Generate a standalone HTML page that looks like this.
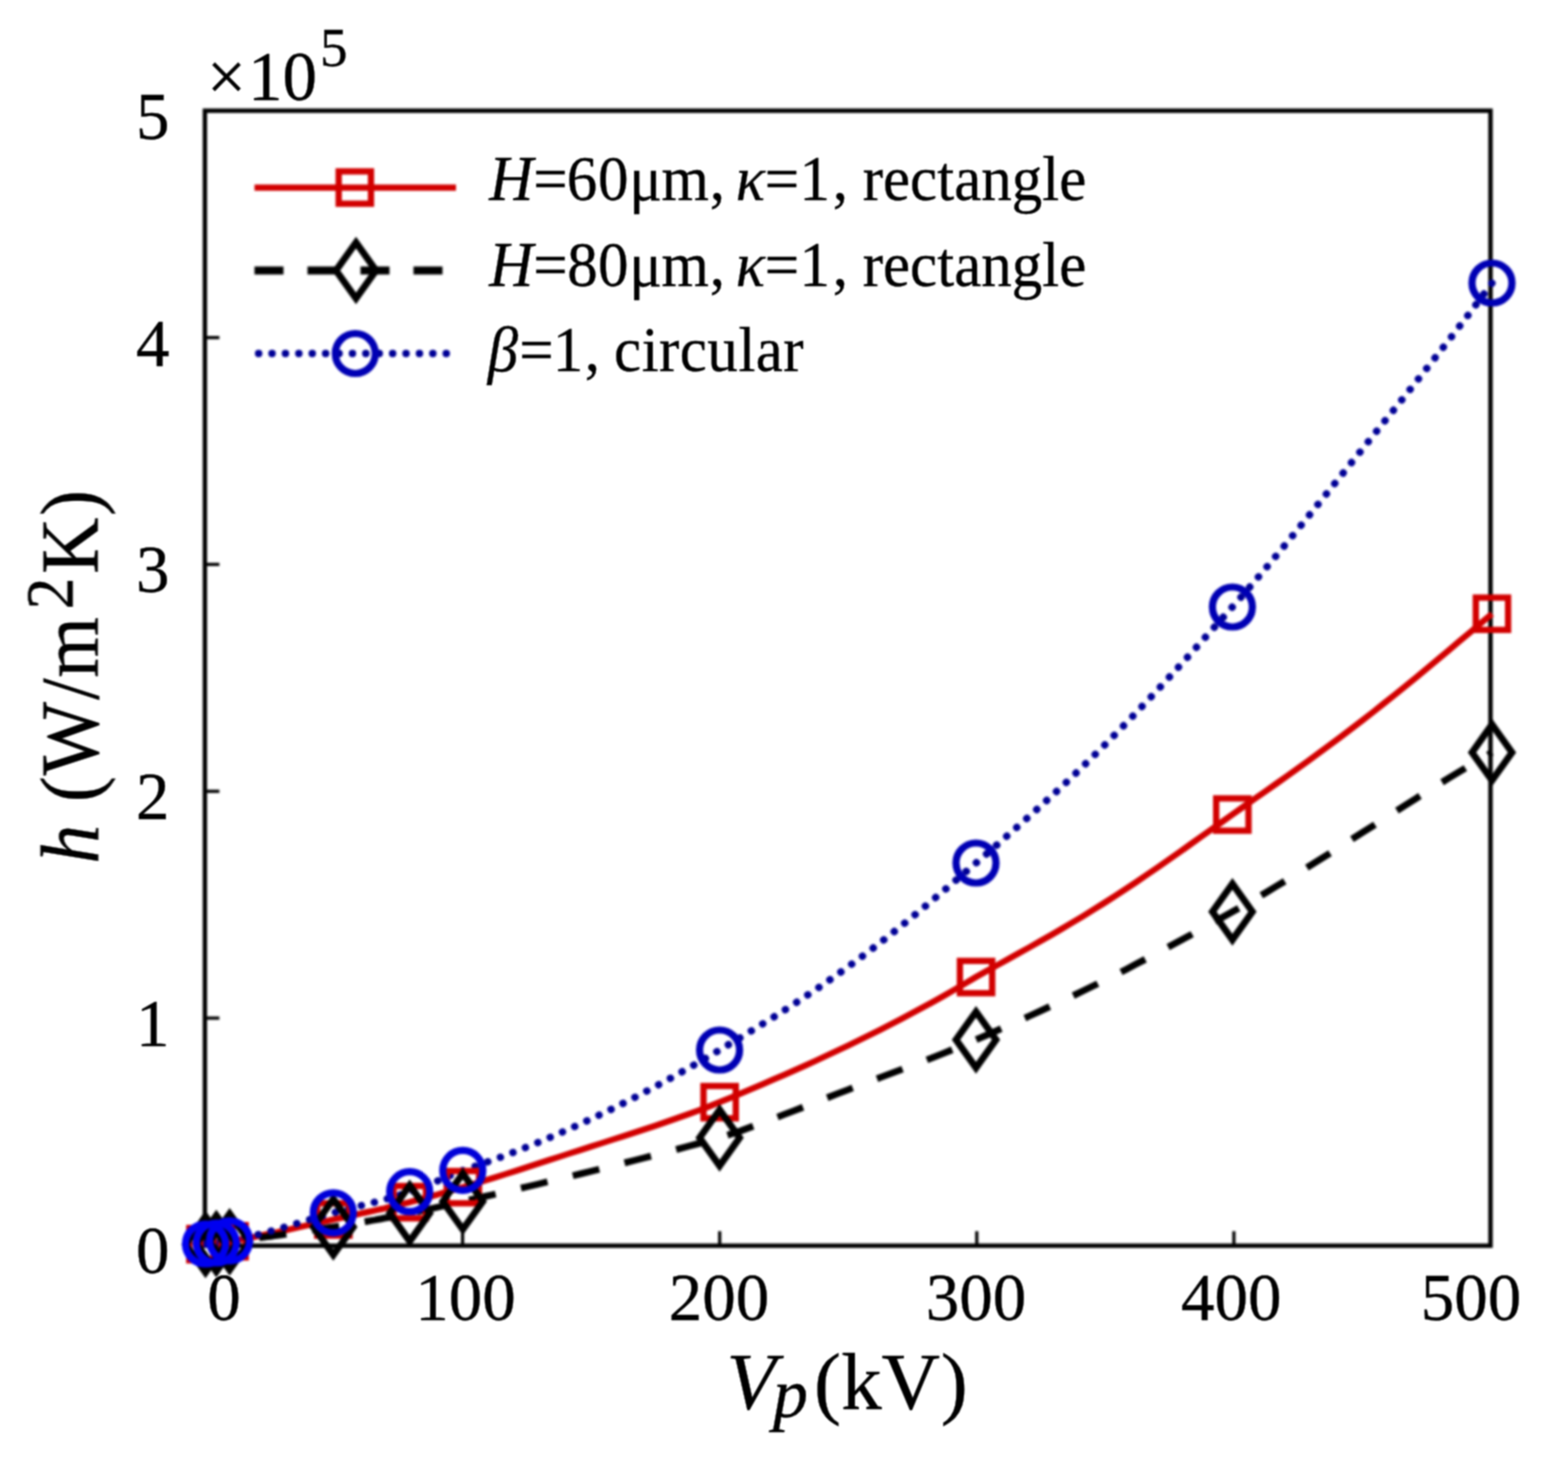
<!DOCTYPE html>
<html lang="en"><head><meta charset="utf-8"><title>h vs Vp</title>
<style>
html,body{margin:0;padding:0;background:#fff;}
body{width:1554px;height:1462px;overflow:hidden;}
svg{display:block;}
text{font-family:"Liberation Serif","DejaVu Serif",serif;fill:#000;stroke:#000;stroke-width:0.35px;}
.i{font-style:italic;}
.sh{filter:blur(0.8px);}
.tx{filter:url(#soft);}
</style></head><body>
<svg width="1554" height="1462" viewBox="0 0 1554 1462">
<defs><filter id="soft" x="0" y="0" width="1554" height="1462" filterUnits="userSpaceOnUse" color-interpolation-filters="sRGB"><feConvolveMatrix order="3" kernelMatrix="1 2 1 2 4 2 1 2 1" divisor="16" edgeMode="duplicate"/></filter></defs>
<rect x="0" y="0" width="1554" height="1462" fill="#fff"/>
<g class="tx">
<text x="224" y="1319.5" font-size="67" text-anchor="middle">0</text>
<text x="465.5" y="1319.5" font-size="67" text-anchor="middle">100</text>
<text x="719" y="1319.5" font-size="67" text-anchor="middle">200</text>
<text x="976" y="1319.5" font-size="67" text-anchor="middle">300</text>
<text x="1231.3" y="1319.5" font-size="67" text-anchor="middle">400</text>
<text x="1471" y="1319.5" font-size="67" text-anchor="middle">500</text>
<text x="169.5" y="1273.0" font-size="67" text-anchor="end">0</text>
<text x="169.5" y="1046.1" font-size="67" text-anchor="end">1</text>
<text x="169.5" y="819.3" font-size="67" text-anchor="end">2</text>
<text x="169.5" y="592.4" font-size="67" text-anchor="end">3</text>
<text x="169.5" y="365.6" font-size="67" text-anchor="end">4</text>
<text x="169.5" y="138.7" font-size="67" text-anchor="end">5</text>
<text x="207 248 282.5 320" y="100" font-size="69">×10<tspan font-size="55" dy="-34">5</tspan></text>
<text x="726.4 772.9 813.9 841.2 881.5 940.8" y="1408.7" font-size="81"><tspan class="i">V</tspan><tspan class="i" font-size="70" dy="8">p</tspan><tspan dy="-8">(kV)</tspan></text>
<text transform="translate(97.6,676) rotate(-90) scale(0.94,1)" x="-199.8 -148.9 -134.3 -105.8 -25.4 -1.8 70.9 108.5 170.3" y="0" font-size="83"><tspan class="i">h</tspan> (W/m<tspan font-size="68" dy="-25">2</tspan><tspan dy="25">K)</tspan></text>
<text transform="scale(0.96,1)" x="509.7 555.6 590.4 623.0 655.5 689.1 739.2 754.2 766.4 796.5 832.7 867.5 885.4 898.6 919.8 948.0 976.3 994.0 1022.2 1054.0 1085.8 1103.5" y="199.8" font-size="63.5"><tspan class="i">H</tspan>=60μm, <tspan class="i">κ</tspan>=1, rectangle</text>
<text transform="scale(0.96,1)" x="509.7 555.6 590.8 623.0 655.5 689.1 739.2 754.2 766.4 796.5 832.7 867.5 885.4 898.6 919.8 948.0 976.3 994.0 1022.2 1054.0 1085.8 1103.5" y="285.8" font-size="63.5"><tspan class="i">H</tspan>=80μm, <tspan class="i">κ</tspan>=1, rectangle</text>
<text transform="scale(0.96,1)" x="508.1 541.0 575.9 609.1 627.1 639.7 668.4 686.4 708.0 736.8 769.2 787.2 816.0" y="371.3" font-size="63.5"><tspan class="i">β</tspan>=1, circular</text>
</g>
<g class="sh">
<rect x="204.9" y="110.7" width="1285.6" height="1135.0" fill="none" stroke="#000" stroke-width="4.4"/>
<line x1="462.6" y1="1245.7" x2="462.6" y2="1231.2" stroke="#000" stroke-width="3.2"/>
<line x1="719.7" y1="1245.7" x2="719.7" y2="1231.2" stroke="#000" stroke-width="3.2"/>
<line x1="976.8" y1="1245.7" x2="976.8" y2="1231.2" stroke="#000" stroke-width="3.2"/>
<line x1="1233.9" y1="1245.7" x2="1233.9" y2="1231.2" stroke="#000" stroke-width="3.2"/>
<line x1="204.9" y1="1018.1" x2="219.4" y2="1018.1" stroke="#000" stroke-width="3.2"/>
<line x1="204.9" y1="791.3" x2="219.4" y2="791.3" stroke="#000" stroke-width="3.2"/>
<line x1="204.9" y1="564.4" x2="219.4" y2="564.4" stroke="#000" stroke-width="3.2"/>
<line x1="204.9" y1="337.6" x2="219.4" y2="337.6" stroke="#000" stroke-width="3.2"/>
<path d="M205.5,1244.2 L205.9,1244.2 L206.4,1244.1 L206.8,1244.1 L207.3,1244.1 L207.8,1244.1 L208.2,1244.0 L208.7,1244.0 L209.1,1244.0 L209.6,1243.9 L210.0,1243.9 L210.5,1243.9 L210.9,1243.8 L211.3,1243.8 L211.8,1243.8 L212.2,1243.7 L212.7,1243.7 L213.2,1243.6 L213.6,1243.6 L214.1,1243.5 L214.5,1243.5 L215.0,1243.4 L215.4,1243.4 L215.9,1243.4 L216.3,1243.3 L216.9,1243.2 L217.4,1243.2 L218.0,1243.1 L218.5,1243.0 L219.1,1243.0 L219.6,1242.9 L220.2,1242.8 L220.7,1242.7 L221.3,1242.6 L221.8,1242.5 L222.4,1242.5 L222.9,1242.4 L223.5,1242.3 L224.1,1242.2 L224.6,1242.1 L225.2,1242.0 L225.7,1241.9 L226.3,1241.8 L226.8,1241.7 L227.4,1241.7 L227.9,1241.6 L228.5,1241.5 L229.0,1241.4 L229.6,1241.3 L233.9,1240.6 L238.2,1239.9 L242.6,1239.1 L246.9,1238.3 L251.2,1237.5 L255.5,1236.7 L259.8,1235.8 L264.2,1234.9 L268.5,1234.0 L272.8,1233.1 L277.1,1232.2 L281.4,1231.2 L285.8,1230.2 L290.1,1229.3 L294.4,1228.3 L298.7,1227.3 L303.1,1226.3 L307.4,1225.3 L311.7,1224.4 L316.0,1223.4 L320.3,1222.4 L324.7,1221.4 L329.0,1220.5 L333.3,1219.5 L336.5,1218.8 L339.7,1218.1 L342.9,1217.4 L346.0,1216.7 L349.2,1216.1 L352.4,1215.4 L355.6,1214.7 L358.8,1214.0 L361.9,1213.3 L365.1,1212.6 L368.3,1211.9 L371.5,1211.2 L374.7,1210.5 L377.9,1209.8 L381.1,1209.1 L384.2,1208.4 L387.4,1207.6 L390.6,1206.9 L393.8,1206.2 L397.0,1205.4 L400.1,1204.6 L403.3,1203.8 L406.5,1203.0 L409.7,1202.2 L411.9,1201.6 L414.1,1201.0 L416.3,1200.4 L418.6,1199.9 L420.8,1199.2 L423.0,1198.6 L425.2,1198.0 L427.4,1197.4 L429.6,1196.8 L431.8,1196.2 L434.0,1195.5 L436.2,1194.9 L438.5,1194.3 L440.7,1193.6 L442.9,1193.0 L445.1,1192.4 L447.3,1191.7 L449.5,1191.1 L451.7,1190.4 L453.9,1189.8 L456.2,1189.1 L458.4,1188.5 L460.6,1187.8 L462.8,1187.2 L473.5,1184.0 L484.2,1180.8 L494.9,1177.5 L505.6,1174.1 L516.3,1170.7 L527.0,1167.2 L537.7,1163.8 L548.4,1160.3 L559.1,1156.9 L569.8,1153.4 L580.5,1150.0 L591.2,1146.5 L601.9,1143.1 L612.6,1139.6 L623.3,1136.2 L634.0,1132.7 L644.7,1129.2 L655.4,1125.7 L666.1,1122.0 L676.8,1118.3 L687.5,1114.5 L698.2,1110.6 L708.9,1106.5 L719.6,1102.2 L730.3,1097.8 L741.0,1093.4 L751.6,1088.9 L762.3,1084.3 L773.0,1079.7 L783.7,1075.1 L794.4,1070.4 L805.1,1065.6 L815.8,1060.7 L826.4,1055.8 L837.1,1050.8 L847.8,1045.7 L858.5,1040.5 L869.2,1035.3 L879.9,1029.9 L890.5,1024.5 L901.2,1018.9 L911.9,1013.3 L922.6,1007.5 L933.3,1001.7 L944.0,995.7 L954.6,989.6 L965.3,983.4 L976.0,977.0 L986.7,971.0 L997.4,965.1 L1008.0,959.2 L1018.7,953.3 L1029.4,947.4 L1040.1,941.3 L1050.8,935.2 L1061.5,929.0 L1072.2,922.7 L1082.8,916.3 L1093.5,909.7 L1104.2,903.0 L1114.9,896.2 L1125.6,889.2 L1136.2,882.1 L1146.9,874.8 L1157.6,867.5 L1168.3,860.0 L1179.0,852.5 L1189.7,844.9 L1200.4,837.3 L1211.0,829.7 L1221.7,822.1 L1232.4,814.5 L1243.2,806.9 L1254.0,799.3 L1264.9,791.7 L1275.7,784.1 L1286.5,776.5 L1297.3,768.7 L1308.1,761.0 L1318.9,753.1 L1329.8,745.1 L1340.6,737.0 L1351.4,728.8 L1362.2,720.5 L1373.0,712.1 L1383.8,703.5 L1394.7,694.9 L1405.5,686.2 L1416.3,677.3 L1427.1,668.4 L1437.9,659.4 L1448.7,650.3 L1459.5,641.2 L1470.4,632.1 L1481.2,622.9 L1492.0,613.8" fill="none" stroke="#d20000" stroke-width="6.2" stroke-linejoin="round"/>
<path d="M205.5,1244.4 L205.9,1244.4 L206.4,1244.4 L206.8,1244.3 L207.3,1244.3 L207.8,1244.3 L208.2,1244.3 L208.7,1244.2 L209.1,1244.2 L209.6,1244.2 L210.0,1244.1 L210.5,1244.1 L210.9,1244.1 L211.3,1244.0 L211.8,1244.0 L212.2,1244.0 L212.7,1243.9 L213.2,1243.9 L213.6,1243.9 L214.1,1243.8 L214.5,1243.8 L215.0,1243.7 L215.4,1243.7 L215.9,1243.6 L216.3,1243.6 L216.9,1243.5 L217.4,1243.5 L218.0,1243.4 L218.5,1243.4 L219.1,1243.3 L219.6,1243.2 L220.2,1243.1 L220.7,1243.1 L221.3,1243.0 L221.8,1242.9 L222.4,1242.8 L222.9,1242.8 L223.5,1242.7 L224.1,1242.6 L224.6,1242.5 L225.2,1242.4 L225.7,1242.4 L226.3,1242.3 L226.8,1242.2 L227.4,1242.1 L227.9,1242.0 L228.5,1242.0 L229.0,1241.9 L229.6,1241.8 L233.9,1241.2 L238.2,1240.6 L242.6,1240.0 L246.9,1239.5 L251.2,1238.9 L255.5,1238.3 L259.8,1237.7 L264.2,1237.1 L268.5,1236.5 L272.8,1236.0 L277.1,1235.4 L281.4,1234.8 L285.8,1234.2 L290.1,1233.5 L294.4,1232.9 L298.7,1232.3 L303.1,1231.7 L307.4,1231.0 L311.7,1230.4 L316.0,1229.7 L320.3,1229.1 L324.7,1228.4 L329.0,1227.7 L333.3,1227.0 L336.5,1226.5 L339.7,1226.0 L342.9,1225.4 L346.0,1224.9 L349.2,1224.4 L352.4,1223.8 L355.6,1223.3 L358.8,1222.8 L361.9,1222.2 L365.1,1221.7 L368.3,1221.1 L371.5,1220.5 L374.7,1220.0 L377.9,1219.4 L381.1,1218.8 L384.2,1218.2 L387.4,1217.7 L390.6,1217.1 L393.8,1216.4 L397.0,1215.8 L400.1,1215.2 L403.3,1214.6 L406.5,1213.9 L409.7,1213.3 L411.9,1212.8 L414.1,1212.4 L416.3,1211.9 L418.6,1211.4 L420.8,1211.0 L423.0,1210.5 L425.2,1210.0 L427.4,1209.5 L429.6,1209.0 L431.8,1208.5 L434.0,1208.0 L436.2,1207.5 L438.5,1207.0 L440.7,1206.5 L442.9,1206.0 L445.1,1205.5 L447.3,1205.0 L449.5,1204.5 L451.7,1204.0 L453.9,1203.5 L456.2,1203.0 L458.4,1202.5 L460.6,1202.0 L462.8,1201.5 L473.5,1199.1 L484.2,1196.6 L494.9,1194.2 L505.6,1191.7 L516.3,1189.2 L527.0,1186.7 L537.7,1184.2 L548.4,1181.6 L559.1,1179.0 L569.8,1176.5 L580.5,1173.9 L591.2,1171.2 L601.9,1168.6 L612.6,1165.9 L623.3,1163.2 L634.0,1160.5 L644.7,1157.8 L655.4,1155.0 L666.1,1152.2 L676.8,1149.4 L687.5,1146.5 L698.2,1143.6 L708.9,1140.7 L719.6,1137.8 L730.3,1134.3 L741.0,1130.7 L751.6,1126.8 L762.3,1122.9 L773.0,1118.8 L783.7,1114.7 L794.4,1110.6 L805.1,1106.4 L815.8,1102.2 L826.4,1098.1 L837.1,1093.9 L847.8,1089.8 L858.5,1085.7 L869.2,1081.7 L879.9,1077.6 L890.5,1073.6 L901.2,1069.6 L911.9,1065.5 L922.6,1061.5 L933.3,1057.3 L944.0,1053.1 L954.6,1048.8 L965.3,1044.4 L976.0,1039.8 L986.7,1035.1 L997.4,1030.4 L1008.0,1025.6 L1018.7,1020.8 L1029.4,1016.0 L1040.1,1011.2 L1050.8,1006.2 L1061.5,1001.2 L1072.2,996.2 L1082.8,991.0 L1093.5,985.8 L1104.2,980.5 L1114.9,975.1 L1125.6,969.7 L1136.2,964.1 L1146.9,958.5 L1157.6,952.9 L1168.3,947.1 L1179.0,941.3 L1189.7,935.5 L1200.4,929.6 L1211.0,923.7 L1221.7,917.7 L1232.4,911.8 L1243.2,905.7 L1254.0,899.5 L1264.9,893.2 L1275.7,886.7 L1286.5,880.2 L1297.3,873.6 L1308.1,866.9 L1318.9,860.1 L1329.8,853.3 L1340.6,846.5 L1351.4,839.6 L1362.2,832.7 L1373.0,825.8 L1383.8,818.9 L1394.7,812.0 L1405.5,805.2 L1416.3,798.3 L1427.1,791.5 L1437.9,784.8 L1448.7,778.2 L1459.5,771.6 L1470.4,765.1 L1481.2,758.7 L1492.0,752.4" fill="none" stroke="#000" stroke-width="6.8" stroke-dasharray="27.3 26" stroke-dashoffset="-1" stroke-linejoin="round"/>
<path d="M205.5,1244.0 L205.9,1244.0 L206.4,1243.9 L206.8,1243.9 L207.3,1243.9 L207.8,1243.8 L208.2,1243.8 L208.7,1243.8 L209.1,1243.7 L209.6,1243.7 L210.0,1243.7 L210.5,1243.6 L210.9,1243.6 L211.3,1243.5 L211.8,1243.5 L212.2,1243.5 L212.7,1243.4 L213.2,1243.4 L213.6,1243.3 L214.1,1243.3 L214.5,1243.2 L215.0,1243.2 L215.4,1243.1 L215.9,1243.1 L216.3,1243.0 L216.9,1242.9 L217.4,1242.9 L218.0,1242.8 L218.5,1242.7 L219.1,1242.6 L219.6,1242.5 L220.2,1242.4 L220.7,1242.4 L221.3,1242.3 L221.8,1242.2 L222.4,1242.1 L222.9,1242.0 L223.5,1241.9 L224.1,1241.8 L224.6,1241.7 L225.2,1241.6 L225.7,1241.5 L226.3,1241.4 L226.8,1241.3 L227.4,1241.2 L227.9,1241.1 L228.5,1241.0 L229.0,1240.9 L229.6,1240.8 L233.9,1240.0 L238.2,1239.1 L242.6,1238.2 L246.9,1237.3 L251.2,1236.2 L255.5,1235.2 L259.8,1234.1 L264.2,1232.9 L268.5,1231.7 L272.8,1230.5 L277.1,1229.3 L281.4,1228.0 L285.8,1226.8 L290.1,1225.5 L294.4,1224.2 L298.7,1222.9 L303.1,1221.6 L307.4,1220.3 L311.7,1219.0 L316.0,1217.7 L320.3,1216.5 L324.7,1215.2 L329.0,1214.0 L333.3,1212.8 L336.5,1211.9 L339.7,1211.1 L342.9,1210.3 L346.0,1209.4 L349.2,1208.6 L352.4,1207.8 L355.6,1207.0 L358.8,1206.2 L361.9,1205.4 L365.1,1204.6 L368.3,1203.8 L371.5,1203.0 L374.7,1202.2 L377.9,1201.3 L381.1,1200.5 L384.2,1199.6 L387.4,1198.7 L390.6,1197.8 L393.8,1196.8 L397.0,1195.9 L400.1,1194.9 L403.3,1193.9 L406.5,1192.8 L409.7,1191.7 L411.9,1190.9 L414.1,1190.1 L416.3,1189.3 L418.6,1188.5 L420.8,1187.6 L423.0,1186.8 L425.2,1185.9 L427.4,1185.0 L429.6,1184.2 L431.8,1183.3 L434.0,1182.4 L436.2,1181.5 L438.5,1180.6 L440.7,1179.6 L442.9,1178.7 L445.1,1177.8 L447.3,1176.9 L449.5,1175.9 L451.7,1175.0 L453.9,1174.1 L456.2,1173.2 L458.4,1172.2 L460.6,1171.3 L462.8,1170.4 L473.5,1166.8 L484.2,1163.1 L494.9,1159.3 L505.6,1155.3 L516.3,1151.2 L527.0,1146.9 L537.7,1142.6 L548.4,1138.1 L559.1,1133.5 L569.8,1128.7 L580.5,1123.9 L591.2,1118.9 L601.9,1113.8 L612.6,1108.6 L623.3,1103.2 L634.0,1097.8 L644.7,1092.2 L655.4,1086.5 L666.1,1080.7 L676.8,1074.8 L687.5,1068.7 L698.2,1062.6 L708.9,1056.4 L719.6,1050.0 L730.3,1043.6 L741.0,1037.2 L751.6,1030.7 L762.3,1024.1 L773.0,1017.5 L783.7,1010.7 L794.4,1003.8 L805.1,996.7 L815.8,989.6 L826.4,982.2 L837.1,974.7 L847.8,967.0 L858.5,959.1 L869.2,951.1 L879.9,942.9 L890.5,934.5 L901.2,926.0 L911.9,917.3 L922.6,908.5 L933.3,899.5 L944.0,890.5 L954.6,881.4 L965.3,872.2 L976.0,863.0 L986.7,853.8 L997.4,844.5 L1008.0,835.2 L1018.7,825.7 L1029.4,816.2 L1040.1,806.6 L1050.8,796.8 L1061.5,786.9 L1072.2,776.8 L1082.8,766.5 L1093.5,756.1 L1104.2,745.5 L1114.9,734.7 L1125.6,723.7 L1136.2,712.6 L1146.9,701.3 L1157.6,689.9 L1168.3,678.3 L1179.0,666.6 L1189.7,654.8 L1200.4,642.9 L1211.0,631.0 L1221.7,619.0 L1232.4,607.0 L1243.2,594.7 L1254.0,582.1 L1264.9,569.3 L1275.7,556.3 L1286.5,543.2 L1297.3,529.9 L1308.1,516.6 L1318.9,503.2 L1329.8,489.7 L1340.6,476.2 L1351.4,462.7 L1362.2,449.3 L1373.0,435.7 L1383.8,422.2 L1394.7,408.7 L1405.5,395.2 L1416.3,381.6 L1427.1,367.9 L1437.9,354.2 L1448.7,340.3 L1459.5,326.3 L1470.4,312.1 L1481.2,297.7 L1492.0,283.0" fill="none" stroke="#000096" stroke-width="7.4" stroke-dasharray="0.1 13.3" stroke-linecap="round" stroke-linejoin="round"/>
<rect x="189.3" y="1228.0" width="32.3" height="32.3" fill="none" stroke="#d20000" stroke-width="6.3"/>
<rect x="200.2" y="1227.1" width="32.3" height="32.3" fill="none" stroke="#d20000" stroke-width="6.3"/>
<rect x="213.4" y="1225.1" width="32.3" height="32.3" fill="none" stroke="#d20000" stroke-width="6.3"/>
<rect x="317.2" y="1203.3" width="32.3" height="32.3" fill="none" stroke="#d20000" stroke-width="6.3"/>
<rect x="393.6" y="1186.0" width="32.3" height="32.3" fill="none" stroke="#d20000" stroke-width="6.3"/>
<rect x="446.7" y="1171.0" width="32.3" height="32.3" fill="none" stroke="#d20000" stroke-width="6.3"/>
<rect x="703.5" y="1086.0" width="32.3" height="32.3" fill="none" stroke="#d20000" stroke-width="6.3"/>
<rect x="959.9" y="960.9" width="32.3" height="32.3" fill="none" stroke="#d20000" stroke-width="6.3"/>
<rect x="1216.2" y="798.4" width="32.3" height="32.3" fill="none" stroke="#d20000" stroke-width="6.3"/>
<rect x="1475.8" y="597.6" width="32.3" height="32.3" fill="none" stroke="#d20000" stroke-width="6.3"/>
<path d="M205.5,1216.4 L225.5,1244.4 L205.5,1272.4 L185.5,1244.4 Z" fill="none" stroke="#000" stroke-width="6.8" stroke-linejoin="miter"/>
<path d="M216.3,1215.6 L236.3,1243.6 L216.3,1271.6 L196.3,1243.6 Z" fill="none" stroke="#000" stroke-width="6.8" stroke-linejoin="miter"/>
<path d="M229.6,1213.8 L249.6,1241.8 L229.6,1269.8 L209.6,1241.8 Z" fill="none" stroke="#000" stroke-width="6.8" stroke-linejoin="miter"/>
<path d="M333.3,1199.0 L353.3,1227.0 L333.3,1255.0 L313.3,1227.0 Z" fill="none" stroke="#000" stroke-width="6.8" stroke-linejoin="miter"/>
<path d="M409.7,1185.3 L429.7,1213.3 L409.7,1241.3 L389.7,1213.3 Z" fill="none" stroke="#000" stroke-width="6.8" stroke-linejoin="miter"/>
<path d="M462.8,1173.5 L482.8,1201.5 L462.8,1229.5 L442.8,1201.5 Z" fill="none" stroke="#000" stroke-width="6.8" stroke-linejoin="miter"/>
<path d="M719.6,1109.8 L739.6,1137.8 L719.6,1165.8 L699.6,1137.8 Z" fill="none" stroke="#000" stroke-width="6.8" stroke-linejoin="miter"/>
<path d="M976.0,1011.8 L996.0,1039.8 L976.0,1067.8 L956.0,1039.8 Z" fill="none" stroke="#000" stroke-width="6.8" stroke-linejoin="miter"/>
<path d="M1232.4,883.8 L1252.4,911.8 L1232.4,939.8 L1212.4,911.8 Z" fill="none" stroke="#000" stroke-width="6.8" stroke-linejoin="miter"/>
<path d="M1492.0,724.4 L1512.0,752.4 L1492.0,780.4 L1472.0,752.4 Z" fill="none" stroke="#000" stroke-width="6.8" stroke-linejoin="miter"/>
<circle cx="205.5" cy="1244.0" r="20" fill="none" stroke="#0000f0" stroke-width="7.2"/>
<circle cx="216.3" cy="1243.0" r="20" fill="none" stroke="#0000f0" stroke-width="7.2"/>
<circle cx="229.6" cy="1240.8" r="20" fill="none" stroke="#0000f0" stroke-width="7.2"/>
<circle cx="333.3" cy="1212.8" r="20" fill="none" stroke="#0000d8" stroke-width="7.2"/>
<circle cx="409.7" cy="1191.7" r="20" fill="none" stroke="#0000d8" stroke-width="7.2"/>
<circle cx="462.8" cy="1170.4" r="20" fill="none" stroke="#0000d8" stroke-width="7.2"/>
<circle cx="719.6" cy="1050.0" r="20" fill="none" stroke="#0000b4" stroke-width="7.2"/>
<circle cx="976.0" cy="863.0" r="20" fill="none" stroke="#0000b4" stroke-width="7.2"/>
<circle cx="1232.4" cy="607.0" r="20" fill="none" stroke="#0000b4" stroke-width="7.2"/>
<circle cx="1492.0" cy="283.0" r="20" fill="none" stroke="#0000b4" stroke-width="7.2"/>
<line x1="254.5" y1="187.6" x2="456" y2="187.6" stroke="#d20000" stroke-width="6.2"/>
<rect x="338.7" y="171.4" width="32.3" height="32.3" fill="none" stroke="#d20000" stroke-width="6.3"/>
<line x1="254.5" y1="270.5" x2="456" y2="270.5" stroke="#000" stroke-width="8" stroke-dasharray="29 24"/>
<path d="M356.0,242.5 L376.0,270.5 L356.0,298.5 L336.0,270.5 Z" fill="none" stroke="#000" stroke-width="6.8" stroke-linejoin="miter"/>
<line x1="258.6" y1="353.5" x2="456" y2="353.5" stroke="#000096" stroke-width="7.4" stroke-dasharray="0.1 13.3" stroke-linecap="round"/>
<circle cx="355.3" cy="353.5" r="20" fill="none" stroke="#0000b4" stroke-width="7.2"/>
</g>
</svg></body></html>
